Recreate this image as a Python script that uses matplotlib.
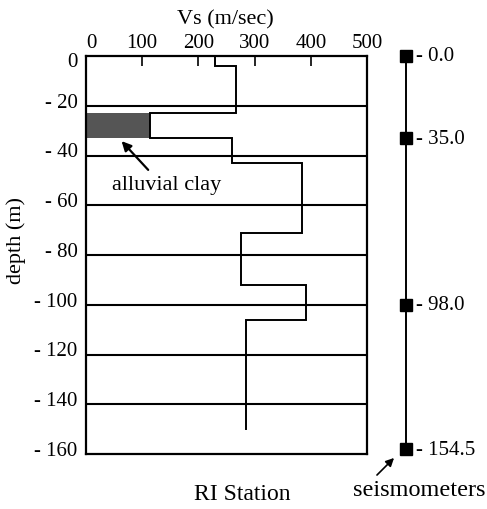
import numpy as np
import matplotlib
matplotlib.use("Agg")
import matplotlib.pyplot as plt
from matplotlib.transforms import ScaledTranslation

# ---- data ----
layer_top = [0, 4, 23, 33, 43, 71, 92, 106]
layer_bottom = [4, 23, 33, 43, 71, 92, 106, 150]
vs = [230, 267, 114, 260, 385, 275, 391, 284]
clay_layer = 2

xticks = [0, 100, 200, 300, 400, 500]
yticks = [0, -20, -40, -60, -80, -100, -120, -140, -160]
ytick_labels = ["0", "- 20", "- 40", "- 60", "- 80", "- 100", "- 120", "- 140", "- 160"]

sensor_pos = [0, 33, 100, 158]
sensor_labels = ["- 0.0", "- 35.0", "- 98.0", "- 154.5"]

FONT = "Liberation Serif"
plt.rcParams["font.family"] = [FONT, "DejaVu Serif"]
FS_TICK = 15
FS = 16

W, H = 487, 510
fig = plt.figure(figsize=(W / 100, H / 100), dpi=100)

def px_axes(x0, y0, x1, y1):
    return [x0 / W, 1 - y1 / H, (x1 - x0) / W, (y1 - y0) / H]

ax = fig.add_axes(px_axes(86, 57, 367, 455))
ax.set_xlim(0, 500)
ax.set_ylim(-160, 0)

# clay fill
ax.fill_betweenx([-layer_top[clay_layer], -layer_bottom[clay_layer]], 0, vs[clay_layer],
                 color="#555555", lw=0)

# Vs step profile
xs, ys = [], []
for t, b, v in zip(layer_top, layer_bottom, vs):
    xs += [v, v]
    ys += [-t, -b]
ax.plot(xs, ys, color="black", lw=1.4, solid_joinstyle="miter")

# grid
for y in yticks[1:-1]:
    ax.axhline(y, color="black", lw=1.5, zorder=0.5)

for s in ax.spines.values():
    s.set_linewidth(1.6)

ax.xaxis.tick_top()
ax.set_xticks(xticks)
ax.set_xticklabels([str(v) for v in xticks])
ax.tick_params(axis="x", direction="in", length=7.5, width=1.2, pad=3, labelsize=FS_TICK)
ax.set_yticks(yticks)
ax.set_yticklabels(ytick_labels)
ax.tick_params(axis="y", length=0, pad=6, labelsize=FS_TICK)
for i, lab in enumerate(ax.get_yticklabels()):
    dy = -3 if i == 0 else 6
    lab.set_transform(lab.get_transform() + ScaledTranslation(0, dy / 100, fig.dpi_scale_trans))
xl = ax.get_xticklabels()
xl[0].set_transform(xl[0].get_transform() + ScaledTranslation(5 / 100, 0, fig.dpi_scale_trans))

fig.text(225 / W, 1 - 20 / H, "Vs (m/sec)", ha="center", va="center", fontsize=FS)
fig.text(16 / W, 1 - 241 / H, "depth (m)", ha="center", va="center", rotation=90, fontsize=FS)
fig.text(242 / W, 1 - 495 / H, "RI Station", ha="center", va="center", fontsize=17)

# alluvial clay annotation
ax.annotate("", xy=(60, -33.4), xytext=(114, -46.6),
            arrowprops=dict(arrowstyle="-|>", color="black", lw=1.6, mutation_scale=14))
ax.text(144, -51.5, "alluvial clay", ha="center", va="center", fontsize=FS)

# seismometer column
ax2 = fig.add_axes(px_axes(380, 57, 487, 455), sharey=ax)
ax2.set_xlim(0, 1)
ax2.axis("off")
sx = 0.24
ax2.plot([sx] * len(sensor_pos), [-p for p in sensor_pos], color="black", lw=1.4,
         marker="s", ms=8, mfc="black", mec="black", clip_on=False)
for p, lab in zip(sensor_pos, sensor_labels):
    ax2.text(0.34, -p, lab, ha="left", va="center", fontsize=FS_TICK, clip_on=False)

fig.text(419 / W, 1 - 491 / H, "seismometers", ha="center", va="center", fontsize=17.5)
fig.add_artist(matplotlib.patches.FancyArrowPatch(
    (375 / W, 1 - 478 / H), (396 / W, 1 - 457 / H), transform=fig.transFigure,
    arrowstyle="-|>", color="black", lw=1.2, mutation_scale=12))

fig.savefig("out.png", dpi=100)
